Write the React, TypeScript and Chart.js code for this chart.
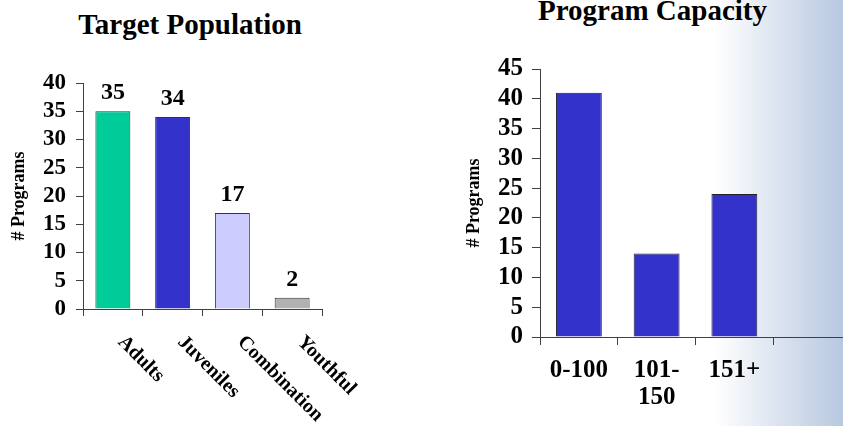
import React, { useEffect, useRef } from "react";
import { Chart, registerables } from "chart.js";

Chart.register(...registerables);

// ---- data ----
const popCategories = ["Adults", "Juveniles", "Combination", "Youthful"];
const popValues = [35, 34, 17, 2];
const popColors = ["#00cc99", "#3333cc", "#ccccff", "#b2b2b2"];

const capCategories: (string | string[])[] = ["0-100", ["101-", "150"], "151+", ""];
const capValues: (number | null)[] = [41, 14, 24, null];
const capColor = "#3333cc";

const popTitle = "Target Population";
const capTitle = "Program Capacity";
const yTitle = "# Programs";

const FONT = '"Liberation Serif", "Times New Roman", serif';
const AXIS = "#404040";

const rotatedLabelsPlugin = {
  id: "rotatedLabels",
  afterDraw(chart: any) {
    const { ctx } = chart;
    const x = chart.scales.x;
    ctx.save();
    ctx.font = `bold 20px ${FONT}`;
    ctx.fillStyle = "#000";
    ctx.textAlign = "left";
    ctx.textBaseline = "top";
    (chart.data.labels as string[]).forEach((lab, i) => {
      const px = x.getPixelForValue(i);
      ctx.save();
      ctx.translate(px + 15, x.top + 23);
      ctx.rotate(Math.PI / 4);
      ctx.fillText(lab, 0, 0);
      ctx.restore();
    });
    ctx.restore();
  },
};

const valueLabelsPlugin = {
  id: "valueLabels",
  afterDatasetsDraw(chart: any) {
    const { ctx } = chart;
    const meta = chart.getDatasetMeta(0);
    const vals = chart.data.datasets[0].data as number[];
    ctx.save();
    ctx.font = `bold 24px ${FONT}`;
    ctx.fillStyle = "#000";
    ctx.textAlign = "center";
    ctx.textBaseline = "alphabetic";
    meta.data.forEach((bar: any, i: number) => {
      ctx.fillText(String(vals[i]), bar.x, bar.y - 12);
    });
    ctx.restore();
  },
};

export default function App() {
  const leftRef = useRef<HTMLCanvasElement>(null);
  const rightRef = useRef<HTMLCanvasElement>(null);

  useEffect(() => {
    const left = new Chart(leftRef.current!, {
      type: "bar",
      data: {
        labels: popCategories,
        datasets: [
          {
            data: popValues,
            backgroundColor: popColors,
            borderColor: "#333",
            borderWidth: 1,
            categoryPercentage: 1,
            barPercentage: 0.585,
          },
        ],
      },
      options: {
        responsive: false,
        animation: false,
        layout: { padding: { left: 0, right: 98, top: 83, bottom: 0 } },
        plugins: { legend: { display: false }, tooltip: { enabled: false }, title: { display: false } },
        scales: {
          x: {
            grid: { display: true, drawOnChartArea: false, drawTicks: true, tickLength: 7, color: AXIS },
            border: { display: true, color: AXIS },
            ticks: { display: false },
            afterFit: (s: any) => {
              s.height = 117;
            },
          },
          y: {
            min: 0,
            max: 40,
            grid: { display: true, drawOnChartArea: false, drawTicks: true, tickLength: 7, color: AXIS },
            border: { display: true, color: AXIS },
            ticks: {
              stepSize: 5,
              autoSkip: false,
              maxTicksLimit: 20,
              color: "#000",
              padding: 10,
              font: { family: FONT, size: 23, weight: "bold", lineHeight: 1 },
            },
            title: {
              display: true,
              text: yTitle,
              color: "#000",
              padding: { top: 9, bottom: 0 },
              font: { family: FONT, size: 18, weight: "bold" },
            },
            afterFit: (s: any) => {
              s.width = 83;
            },
          },
        },
      },
      plugins: [rotatedLabelsPlugin, valueLabelsPlugin],
    } as any);

    const right = new Chart(rightRef.current!, {
      type: "bar",
      data: {
        labels: capCategories,
        datasets: [
          {
            data: capValues,
            backgroundColor: capColor,
            borderColor: "#222",
            borderWidth: 1,
            categoryPercentage: 1,
            barPercentage: 0.59,
          },
        ],
      },
      options: {
        responsive: false,
        animation: false,
        layout: { padding: { left: 0, right: 2, top: 69, bottom: 0 } },
        plugins: { legend: { display: false }, tooltip: { enabled: false }, title: { display: false } },
        scales: {
          x: {
            grid: { display: true, drawOnChartArea: false, drawTicks: true, tickLength: 8, color: AXIS },
            border: { display: true, color: AXIS },
            ticks: {
              color: "#000",
              maxRotation: 0,
              minRotation: 0,
              autoSkip: false,
              padding: 12,
              font: { family: FONT, size: 25, weight: "bold", lineHeight: 1.08 },
            },
            afterFit: (s: any) => {
              s.height = 89;
            },
          },
          y: {
            min: 0,
            max: 45,
            grid: { display: true, drawOnChartArea: false, drawTicks: true, tickLength: 8, color: AXIS },
            border: { display: true, color: AXIS },
            ticks: {
              stepSize: 5,
              autoSkip: false,
              maxTicksLimit: 20,
              color: "#000",
              padding: 9,
              font: { family: FONT, size: 25, weight: "bold", lineHeight: 1 },
            },
            title: {
              display: true,
              text: yTitle,
              color: "#000",
              padding: { top: 44, bottom: 0 },
              font: { family: FONT, size: 18, weight: "bold" },
            },
            afterFit: (s: any) => {
              s.width = 120;
            },
          },
        },
      },
    } as any);

    return () => {
      left.destroy();
      right.destroy();
    };
  }, []);

  const titleStyle: React.CSSProperties = {
    position: "absolute",
    fontFamily: FONT,
    fontWeight: "bold",
    fontSize: 29,
    lineHeight: "29px",
    color: "#000",
    textAlign: "center",
    whiteSpace: "nowrap",
  };

  return (
    <div
      style={{
        position: "absolute",
        left: 0,
        top: 0,
        width: 843,
        height: 426,
        overflow: "hidden",
        background: "#ffffff",
      }}
    >
      <div
        style={{
          position: "absolute",
          left: 715,
          top: 0,
          width: 128,
          height: 426,
          background: "linear-gradient(to right, #ffffff, #b7c8e0)",
        }}
      />
      <div style={{ ...titleStyle, left: 0, width: 380, top: 10 }}>{popTitle}</div>
      <div style={{ ...titleStyle, left: 520, width: 265, top: -4 }}>{capTitle}</div>
      <canvas
        ref={leftRef}
        width={420}
        height={426}
        style={{ position: "absolute", left: 0, top: 0, width: 420, height: 426 }}
      />
      <canvas
        ref={rightRef}
        width={433}
        height={426}
        style={{ position: "absolute", left: 420, top: 0, width: 433, height: 426 }}
      />
    </div>
  );
}
